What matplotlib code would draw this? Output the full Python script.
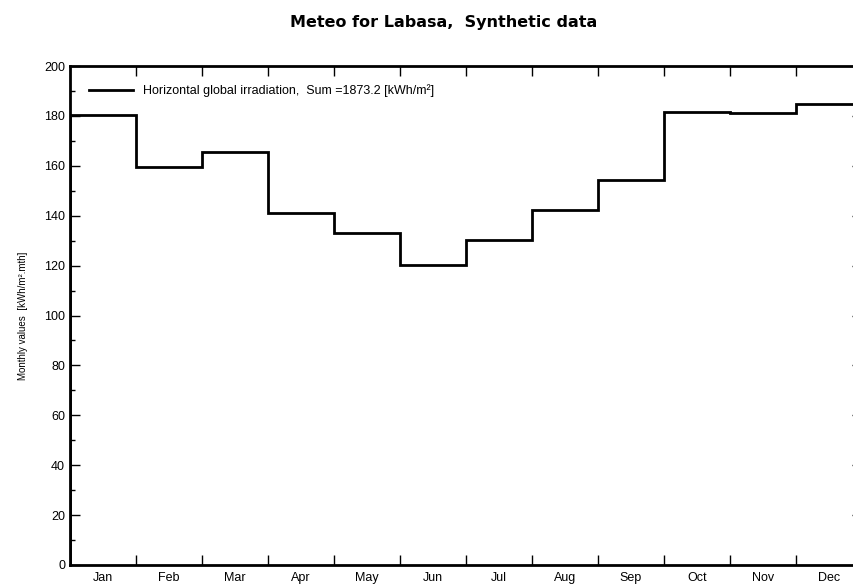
import matplotlib
matplotlib.use('Agg')
import matplotlib.pyplot as plt
import numpy as np

months = ['Jan', 'Feb', 'Mar', 'Apr', 'May', 'Jun',
          'Jul', 'Aug', 'Sep', 'Oct', 'Nov', 'Dec']
irradiation = [180.5, 159.5, 165.5, 141.0, 133.0, 120.2,
               130.3, 142.3, 154.3, 181.6, 181.2, 184.8]

plt.rcParams['font.family'] = ['Liberation Sans', 'DejaVu Sans']

fig = plt.figure(figsize=(8.54, 5.87), dpi=100)
# right spine sits just outside the image, as in the original
ax = fig.add_axes([0.082, 0.0375, 0.927, 0.850])

edges = np.arange(len(months) + 1)
ax.stairs(irradiation, edges, color='black', linewidth=2,
          label='Horizontal global irradiation,  Sum =1873.2 [kWh/m²]')

ax.set_xlim(0, 12)
ax.set_ylim(0, 200)
ax.set_xticks(edges[1:-1])
ax.set_xticklabels([])
ax.set_xticks(np.arange(12) + 0.5, minor=True)
ax.set_xticklabels(months, minor=True, fontsize=9)
ax.tick_params(axis='x', which='minor', length=0, pad=5)
ax.tick_params(axis='x', which='major', direction='in', length=7, width=1, top=True)
ax.set_yticks(np.arange(0, 201, 20))
ax.set_yticks(np.arange(10, 200, 20), minor=True)
ax.tick_params(axis='y', which='major', direction='in', length=7.5, width=1,
               labelsize=9, right=True)
ax.tick_params(axis='y', which='minor', direction='in', length=3.5, width=1, right=True)
for s in ax.spines.values():
    s.set_linewidth(2)

ax.set_ylabel('Monthly values  [kWh/m².mth]', fontsize=7, labelpad=12)
fig.suptitle('Meteo for Labasa,  Synthetic data', fontsize=11.5, fontweight='bold',
             family='DejaVu Sans', x=0.519, y=0.975)
ax.legend(loc='upper left', frameon=False, fontsize=9, handlelength=3.5,
          handletextpad=0.8, bbox_to_anchor=(0.018, 0.973), borderaxespad=0)

plt.savefig('out.png', dpi=100)
